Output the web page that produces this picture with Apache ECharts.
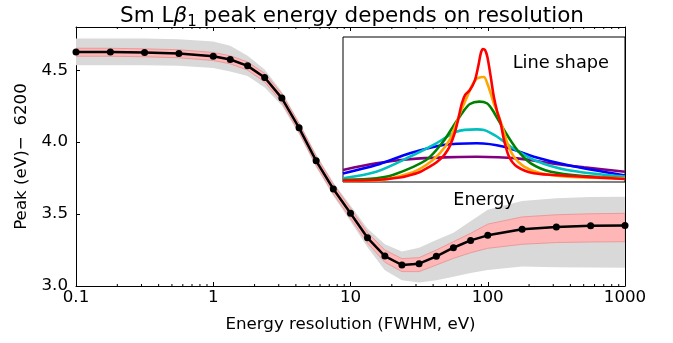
<!DOCTYPE html>
<html><head><meta charset="utf-8">
<script src="https://cdn.jsdelivr.net/npm/echarts@6/dist/echarts.min.js"></script>
<style>html,body{margin:0;padding:0;background:#fff}#c{width:673px;height:343px}</style>
</head><body><div id="c"></div>
<script>
// ---- main chart data ----
var resolution = [0.1, 0.178, 0.316, 0.562, 1, 1.33, 1.78, 2.37, 3.16, 4.22, 5.62, 7.5, 10, 13.3, 17.8, 23.7, 31.6, 42.2, 56.2, 75, 100, 178, 316, 562, 1000];
var peak = [4.627, 4.627, 4.623, 4.616, 4.597, 4.574, 4.53, 4.449, 4.306, 4.099, 3.870, 3.674, 3.505, 3.335, 3.208, 3.146, 3.155, 3.206, 3.266, 3.317, 3.352, 3.394, 3.41, 3.419, 3.421];
var pinkLow = [4.597, 4.597, 4.593, 4.586, 4.567, 4.544, 4.50, 4.418, 4.275, 4.068, 3.838, 3.64, 3.47, 3.298, 3.165, 3.10, 3.10, 3.146, 3.192, 3.231, 3.262, 3.290, 3.302, 3.306, 3.308];
var pinkHigh = [4.652, 4.652, 4.648, 4.642, 4.623, 4.600, 4.557, 4.478, 4.336, 4.13, 3.902, 3.708, 3.54, 3.372, 3.25, 3.19, 3.197, 3.25, 3.308, 3.366, 3.43, 3.48, 3.495, 3.502, 3.505];
var greyLow = [4.535, 4.535, 4.535, 4.530, 4.515, 4.49, 4.46, 4.38, 4.255, 4.055, 3.825, 3.625, 3.45, 3.27, 3.11, 3.04, 3.025, 3.04, 3.065, 3.09, 3.111, 3.135, 3.13, 3.128, 3.127];
var greyHigh = [4.72, 4.72, 4.72, 4.715, 4.70, 4.67, 4.60, 4.505, 4.35, 4.14, 3.915, 3.72, 3.56, 3.40, 3.29, 3.24, 3.265, 3.32, 3.37, 3.45, 3.53, 3.59, 3.61, 3.618, 3.62];
var xTickLabels = ['0.1', '1', '10', '100', '1000'];
var yTickLabels = ['3.0', '3.5', '4.0', '4.5'];
var minorTicks = [0.2,0.3,0.4,0.5,0.6,0.7,0.8,0.9,2,3,4,5,6,7,8,9,20,30,40,50,60,70,80,90,200,300,400,500,600,700,800,900];

// ---- inset line shapes (energy in arbitrary units 0-100, intensity 0-100) ----
var redX = [0, 11.7, 20.2, 23.8, 27.3, 30.9, 33.3, 35.5, 36.9, 37.9, 39.6, 40.8, 41.5, 42.2, 43.3, 45.0, 46.8, 47.9, 48.9, 49.6, 50.4, 51.2, 52.4, 53.5, 54.7, 55.9, 57.1, 58.9, 61.7, 67.7, 79.4, 91.1, 100];
var redY = [1.0, 1.4, 3.1, 4.8, 6.9, 10.7, 13.8, 17.6, 21.4, 24.8, 33.8, 42.8, 49.0, 54.5, 60.0, 63.4, 70.3, 79.3, 89.0, 91.7, 91.0, 86.2, 72.4, 58.6, 48.3, 40.7, 29.0, 17.4, 10.6, 6.0, 4.3, 3.0, 2.1];
var orangeX = [0, 11.7, 23.7, 29.5, 34.3, 37.8, 40.2, 41.9, 43.7, 45.5, 47.3, 48.8, 50.0, 51.2, 52.4, 53.5, 54.7, 56.5, 58.3, 60.6, 64.2, 70.1, 79.4, 100];
var orangeY = [0.7, 1.0, 6.0, 11.7, 19.8, 29.0, 40.5, 49.4, 57.4, 65.5, 71.2, 72.2, 72.4, 67.8, 60.9, 54.0, 48.3, 38.1, 26.7, 17.4, 10.6, 6.0, 3.7, 2.6];
var greenX = [0, 11.8, 17.7, 29.5, 35.5, 39.0, 42.6, 45.0, 48.3, 51.0, 53.0, 57.1, 61.8, 66.6, 73.7, 85.5, 100];
var greenY = [1.4, 2.6, 4.8, 15.2, 27.8, 38.1, 48.5, 53.8, 55.4, 54.3, 49.7, 35.9, 22.1, 12.9, 7.1, 4.1, 2.6];
var cyanX = [0, 11.8, 23.7, 33.1, 40.2, 47.4, 50.0, 54.7, 59.5, 67.7, 79.5, 100];
var cyanY = [2.6, 7.1, 17.4, 26.7, 34.7, 36.3, 35.9, 31.2, 24.3, 15.2, 8.3, 3.7];
var blueX = [0, 11.8, 23.7, 35.5, 47.4, 57.1, 67.7, 79.5, 100];
var blueY = [5.9, 11.7, 19.8, 25.5, 26.7, 24.3, 17.4, 11.7, 4.5];
var purpleX = [0, 11.8, 23.7, 35.5, 47.4, 61.8, 73.7, 85.5, 100];
var purpleY = [8.3, 12.9, 15.7, 17.0, 17.4, 16.3, 12.9, 10.1, 7.1];

var FONT = 'DejaVu Sans';
var yMin = 3.0, yMax = 4.8;

function zip(a, b) { return a.map(function (v, i) { return [v, b[i]]; }); }

var chart = echarts.init(document.getElementById('c'), null, {renderer: 'canvas'});

function insetLine(xs, ys, color) {
  return {
    type: 'line', xAxisIndex: 2, yAxisIndex: 2, data: zip(xs, ys), showSymbol: false, symbol: 'none',
    smooth: 0.3, lineStyle: {color: color, width: 2.6}, silent: true, animation: false, z: 5
  };
}

function bandSeries(lo, hi, fill, stroke, z) {
  return {
    type: 'custom', xAxisIndex: 0, yAxisIndex: 0, silent: true, z: z, clip: true,
    data: resolution.map(function (x, i) { return [x, lo[i], hi[i]]; }),
    encode: {x: 0, y: [1, 2]},
    renderItem: function (params, api) {
      if (params.dataIndex !== 0) return null;
      var top = resolution.map(function (x, i) { return api.coord([x, hi[i]]); });
      var bot = resolution.map(function (x, i) { return api.coord([x, lo[i]]); }).reverse();
      return {type: 'polygon', shape: {points: top.concat(bot)},
        style: {fill: fill, stroke: stroke, lineWidth: stroke ? 1 : 0}};
    }
  };
}

var option = {
  animation: false,
  backgroundColor: '#fff',
  title: [{
    text: 'Sm L{b|β}{s|1} peak energy depends on resolution',
    left: 347, top: 0, textAlign: 'center',
    textStyle: {
      fontFamily: FONT, fontSize: 21.5, fontWeight: 'normal', color: '#000',
      rich: {
        b: {fontFamily: FONT, fontSize: 21.5, fontStyle: 'italic', color: '#000'},
        s: {fontFamily: FONT, fontSize: 15, color: '#000', verticalAlign: 'bottom', padding: [0, 0, -3, 0]}
      }
    }
  }, {
    text: 'Line shape', right: 59, top: 49,
    textStyle: {fontFamily: FONT, fontSize: 17.8, fontWeight: 'normal', color: '#000'}
  }],
  grid: [
    {left: 76, right: 48, top: 27, bottom: 57, show: false},
    {left: 343, right: 48, top: 37, bottom: 161, show: true, borderColor: '#000', borderWidth: 1, backgroundColor: '#fff', z: 4}
  ],
  xAxis: [{
    type: 'log', gridIndex: 0, min: 0.1, max: 1000, logBase: 10,
    name: 'Energy resolution (FWHM, eV)', nameLocation: 'middle', nameGap: 30,
    nameTextStyle: {fontFamily: FONT, fontSize: 16.7, color: '#000'},
    axisLine: {show: true, lineStyle: {color: '#000', width: 1}},
    axisTick: {show: true, inside: true, length: 4, lineStyle: {color: '#000'}},
    axisLabel: {fontFamily: FONT, fontSize: 16.7, color: '#000', margin: 3,
      formatter: function (v) { var s = String(+v.toPrecision(3)); return xTickLabels.indexOf(s) >= 0 ? s : ''; }},
    splitLine: {show: false}
  }, {
    type: 'log', gridIndex: 0, min: 0.1, max: 1000, position: 'top',
    axisLine: {show: true, lineStyle: {color: '#000', width: 1}},
    axisTick: {show: true, inside: true, length: 4, lineStyle: {color: '#000'}},
    axisLabel: {show: false}, splitLine: {show: false}
  }, {
    type: 'value', gridIndex: 1, min: 0, max: 100, z: 10,
    name: 'Energy', nameLocation: 'middle', nameGap: 9,
    nameTextStyle: {fontFamily: FONT, fontSize: 17.5, color: '#000'},
    axisLine: {show: false}, axisTick: {show: false}, axisLabel: {show: false}, splitLine: {show: false}
  }],
  yAxis: [{
    type: 'value', gridIndex: 0, min: yMin, max: yMax, interval: 0.5,
    name: 'Peak (eV)−  6200', nameLocation: 'middle', nameGap: 41,
    nameTextStyle: {fontFamily: FONT, fontSize: 16.7, color: '#000'},
    axisLine: {show: true, lineStyle: {color: '#000', width: 1}},
    axisTick: {show: true, inside: true, length: 4, lineStyle: {color: '#000'}},
    axisLabel: {fontFamily: FONT, fontSize: 16.7, color: '#000', margin: 8,
      formatter: function (v) { var s = v.toFixed(1); return yTickLabels.indexOf(s) >= 0 ? s : ''; }},
    splitLine: {show: false}
  }, {
    type: 'value', gridIndex: 0, min: yMin, max: yMax, interval: 0.5, position: 'right',
    axisLine: {show: true, lineStyle: {color: '#000', width: 1}},
    axisTick: {show: true, inside: true, length: 4, lineStyle: {color: '#000'}},
    axisLabel: {show: false}, splitLine: {show: false}
  }, {
    type: 'value', gridIndex: 1, min: 0, max: 100,
    axisLine: {show: false}, axisTick: {show: false}, axisLabel: {show: false}, splitLine: {show: false}
  }],
  series: [
    bandSeries(greyLow, greyHigh, '#d9d9d9', null, 1),
    bandSeries(pinkLow, pinkHigh, '#ffb6b6', '#eb9a9a', 2),
    {type: 'line', xAxisIndex: 0, yAxisIndex: 0, data: zip(resolution, peak),
     symbol: 'circle', symbolSize: 7, showAllSymbol: true,
     itemStyle: {color: '#000'}, lineStyle: {color: '#000', width: 2.5}, silent: true, z: 3},
    {type: 'custom', xAxisIndex: 0, yAxisIndex: 0, data: minorTicks.map(function (t) { return [t, yMin]; }),
     silent: true, z: 3, clip: false,
     renderItem: function (params, api) {
       var pb = api.coord([api.value(0), yMin]);
       var pt = api.coord([api.value(0), yMax]);
       var st = {stroke: '#000', lineWidth: 1};
       return {type: 'group', children: [
         {type: 'line', shape: {x1: pb[0], y1: pb[1], x2: pb[0], y2: pb[1] - 2}, style: st},
         {type: 'line', shape: {x1: pt[0], y1: pt[1], x2: pt[0], y2: pt[1] + 2}, style: st}
       ]};
     }},
    insetLine(purpleX, purpleY, '#800080'),
    insetLine(blueX, blueY, '#0000ff'),
    insetLine(cyanX, cyanY, '#00bfbf'),
    insetLine(greenX, greenY, '#008000'),
    insetLine(orangeX, orangeY, '#ffa500'),
    insetLine(redX, redY, '#ff0000')
  ]
};
chart.setOption(option);
</script>
</body></html>
